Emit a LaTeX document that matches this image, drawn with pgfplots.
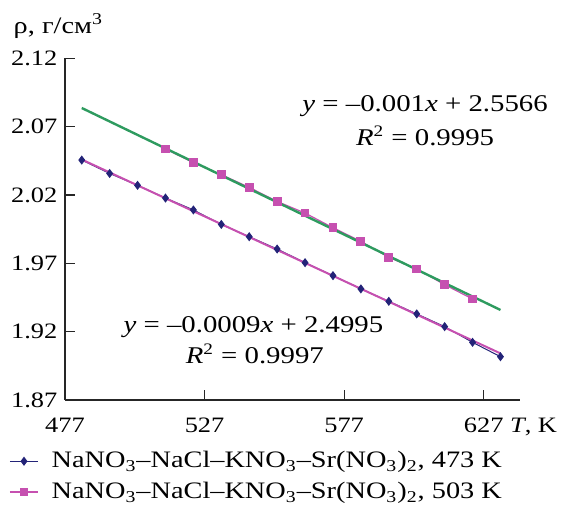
\documentclass[border=0pt]{standalone}
\usepackage{fontspec}
\setmainfont{Liberation Serif}[FakeStretch=1.2]
\usepackage{pgfplots}
\pgfplotsset{compat=1.18}
\definecolor{navy}{RGB}{35,35,120}
\definecolor{pinkm}{RGB}{198,80,176}
\definecolor{greent}{RGB}{46,155,95}
\begin{document}
\fontsize{11}{13}\selectfont
\begin{tikzpicture}
\path[use as bounding box] (-32.5pt,-54pt) rectangle (248.5pt,200pt);
\begin{axis}[
  at={(0,0)}, anchor=south west,
  scale only axis, width=227.5pt, height=170.8pt,
  xmin=477, xmax=640, ymin=1.87, ymax=2.12,
  axis x line=bottom, axis y line=left,
  axis line style={-, line width=0.6pt, black!85},
  xtick={477,527,577,627},
  xticklabels={477,527,577,{627\rlap{ \textit{T}, K}}},
  ytick={1.87,1.92,1.97,2.02,2.07,2.12},
  yticklabels={1.87,1.92,1.97,2.02,2.07,2.12},
  tick align=inside, major tick length=5pt,
  tick style={black!85, line width=0.6pt},
  ticklabel style={font=\fontsize{11}{13}\selectfont},
  xticklabel style={yshift=-5pt},
  legend style={draw=none, fill=none, at={([xshift=-31pt,yshift=-21.5pt]axis description cs:0,0)}, anchor=north west, font=\fontsize{11.8}{13}\selectfont, row sep=1.5pt},
  legend cell align=left,
  legend image code/.code={\draw[mark repeat=2,mark phase=2,#1] plot coordinates {(0pt,0pt) (7pt,0pt) (14pt,0pt)}; \path (18.5pt,0pt);},
  clip=false,
]
\addplot[navy, line width=0.5pt, mark=diamond*, mark size=1.9pt, mark options={fill=navy, draw=navy}] coordinates {
(483,2.0456) (493,2.0358) (503,2.0271) (513,2.0178) (523,2.0091) (533,1.9985) (543,1.9895) (553,1.9805)
(563,1.9705) (573,1.9610) (583,1.9513) (593,1.9422) (603,1.9330) (613,1.9237) (623,1.9122) (633,1.9017)};
\addlegendentry{NaNO\textsubscript{3}–NaCl–KNO\textsubscript{3}–Sr(NO\textsubscript{3})\textsubscript{2}, 473 K}
\addplot[pinkm, line width=1pt, forget plot] coordinates {(483,2.0460) (633,1.9041)};
\addplot[pinkm, line width=0.6pt, mark=square*, mark size=1.9pt, mark options={fill=pinkm, draw=pinkm}] coordinates {
(513,2.0537) (523,2.0437) (533,2.0349) (543,2.0256) (553,2.0153) (563,2.0068) (573,1.9961) (583,1.9861)
(593,1.9744) (603,1.9659) (613,1.9544) (623,1.9439)};
\addlegendentry{NaNO\textsubscript{3}–NaCl–KNO\textsubscript{3}–Sr(NO\textsubscript{3})\textsubscript{2}, 503 K}
\addplot[greent, line width=1.2pt, forget plot] coordinates {(483,2.0837) (633,1.9359)};
\node[font=\fontsize{12}{14}\selectfont] at (axis cs:606,2.0854) {\textit{y} = –0.001\textit{x} + 2.5566};
\node[font=\fontsize{12}{14}\selectfont] at (axis cs:606,2.0634) {\textit{R}\textsuperscript{2} = 0.9995};
\node[font=\fontsize{12}{14}\selectfont] at (axis cs:544.5,1.9231) {\textit{y} = –0.0009\textit{x} + 2.4995};
\node[font=\fontsize{12}{14}\selectfont] at (axis cs:545,1.9037) {\textit{R}\textsuperscript{2} = 0.9997};
\node[anchor=base west, font=\fontsize{11.8}{13}\selectfont] at ([xshift=-29.5pt,yshift=12.5pt]rel axis cs:0,1) {ρ, г/см\textsuperscript{3}};
\end{axis}
\end{tikzpicture}
\end{document}
